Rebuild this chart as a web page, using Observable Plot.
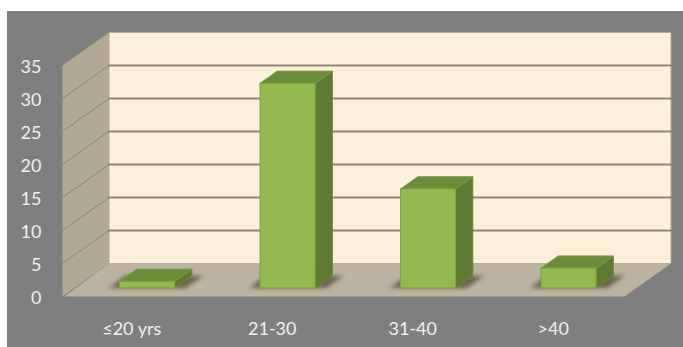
<!DOCTYPE html>
<html>
<head>
<meta charset="utf-8">
<script src="https://cdn.jsdelivr.net/npm/d3@7"></script>
<script src="https://cdn.jsdelivr.net/npm/@observablehq/plot@0.6"></script>
<style>
  html, body { margin: 0; padding: 0; background: #fff; }
  #chart { position: absolute; left: 7px; top: 11px; }
  #chart svg { display: block; background: #7f7f7f; }
</style>
</head>
<body>
<div id="chart"></div>
<script>
// Age groups and their counts
const categories = ["≤20 yrs", "21-30", "31-40", ">40"];
const counts = [1, 31, 15, 3];
const valueTicks = [0, 5, 10, 15, 20, 25, 30, 35];
const gridValues = [5, 10, 15, 20, 25, 30];

// Oblique projection: one unit of depth moves a point right and up, in data units
const depthU = 0.331;
const depthV = 5;
const project = (u, d, v) => ({x: u + d * depthU, y: v + d * depthV});

const nCat = categories.length;
const topValue = 35;

// Box placement inside each category slot, and along the depth of the floor
const halfWidth = 0.196;
const nudge = 0.016;
const boxFront = 0.26;
const boxBack = 0.63;

// A closed polygon, tagged with an id so each one is a separate series
let faceId = 0;
const face = (pts) => {
  const id = faceId++;
  const ring = [...pts, pts[0]];
  return ring.map(([u, d, v]) => ({...project(u, d, v), id}));
};

const backWall = face([[0, 1, 0], [nCat, 1, 0], [nCat, 1, topValue], [0, 1, topValue]]);
const sideWall = face([[0, 0, 0], [0, 1, 0], [0, 1, topValue], [0, 0, topValue]]);
const floor = face([[0.014, 0, 0], [nCat, 0, 0], [nCat, 1, 0], [0, 1, 0]]);

const backGrid = gridValues.flatMap((v) => {
  const id = faceId++;
  return [[0, 1, v], [nCat, 1, v]].map(([u, d, w]) => ({...project(u, d, w), id}));
});
const sideGrid = gridValues.flatMap((v) => {
  const id = faceId++;
  return [[0, 0, v], [0, 1, v]].map(([u, d, w]) => ({...project(u, d, w), id}));
});

const slots = counts.map((value, i) => {
  const c = i + 0.5 + nudge;
  return {value, l: c - halfWidth, r: c + halfWidth};
});

const shadows = slots.flatMap(({l, r}) =>
  face([[l - 0.08, boxFront, 0], [r + 0.08, boxFront, 0], [r + 0.08, boxBack, 0], [l - 0.08, boxBack, 0]]));
const sides = slots.flatMap(({value, l, r}) =>
  face([[r, boxFront, 0], [r, boxBack, 0], [r, boxBack, value], [r, boxFront, value]]));
const tops = slots.flatMap(({value, l, r}) =>
  face([[l, boxFront, value], [r, boxFront, value], [r, boxBack, value], [l, boxBack, value]]));
const fronts = slots.flatMap(({value, l, r}) =>
  face([[l, boxFront, 0], [r, boxFront, 0], [r, boxFront, value], [l, boxFront, value]]));

const polygon = (data, options) =>
  Plot.line(data, {x: "x", y: "y", z: "id", curve: "linear-closed", ...options});

const chart = Plot.plot({
  width: 676,
  height: 336,
  marginLeft: 55,
  marginRight: 59,
  marginTop: 54,
  marginBottom: 51,
  style: {fontFamily: "Lato, sans-serif", fontSize: "18px", background: "#7f7f7f"},
  x: {domain: [0, nCat]},
  y: {domain: [0, topValue]},
  marks: [
    polygon(backWall, {fill: "#fcf0db", stroke: "#b5ab98", strokeWidth: 1}),
    polygon(sideWall, {fill: "#b2a995", stroke: "none"}),
    polygon(floor, {fill: "#bdb3a1", stroke: "none"}),
    Plot.line(backGrid, {x: "x", y: "y", z: "id", stroke: "#8f8676", strokeWidth: 1.8}),
    Plot.line(sideGrid, {x: "x", y: "y", z: "id", stroke: "#8f8674", strokeWidth: 1}),
    polygon(shadows, {fill: "#4d4a3a", fillOpacity: 0.75, stroke: "none", imageFilter: "blur(2px)"}),
    polygon(sides, {fill: "#5f7a32", stroke: "#6b8838", strokeWidth: 1}),
    polygon(tops, {fill: "#6c8d38", stroke: "#7c9e44", strokeWidth: 1}),
    polygon(fronts, {fill: "#94b950", stroke: "#7f9f3e", strokeWidth: 1}),
    Plot.axisY({
      ticks: valueTicks,
      tickSize: 0,
      tickPadding: 21,
      label: null,
      color: "#f0f0f0",
      dy: 1.5
    }),
    Plot.axisX({
      ticks: categories.map((_, i) => i + 0.5),
      tickFormat: (t) => categories[t - 0.5],
      tickSize: 0,
      tickPadding: 26,
      label: null,
      color: "#f0f0f0",
      dx: -1
    })
  ]
});

document.getElementById("chart").appendChild(chart);
</script>
</body>
</html>
